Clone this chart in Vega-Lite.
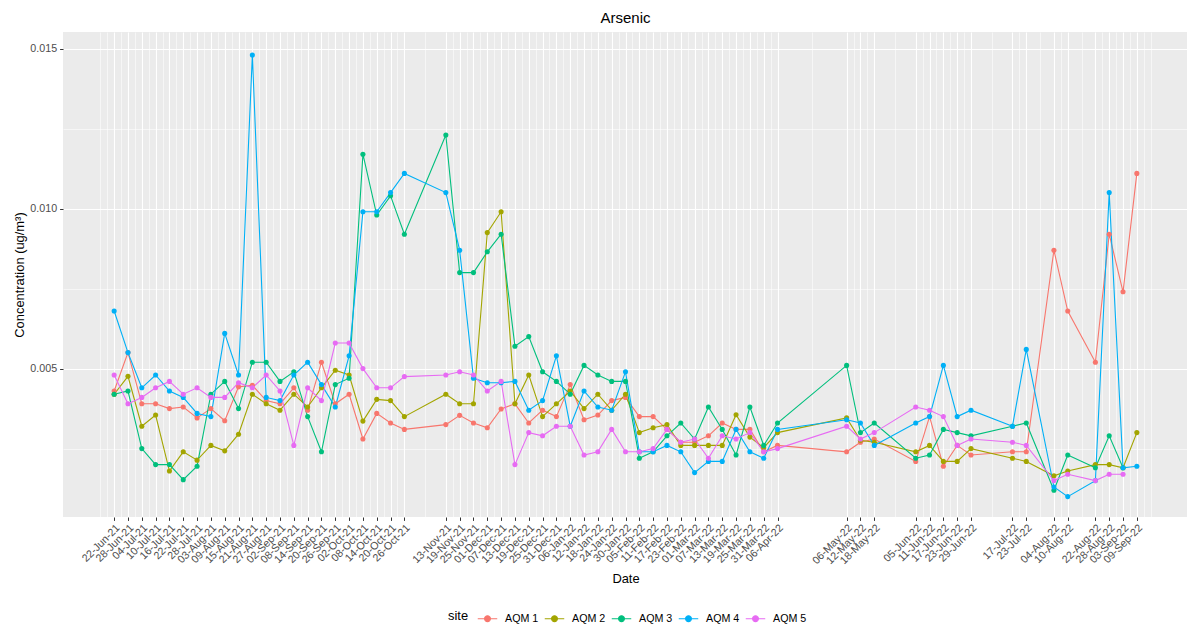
{
"$schema": "https://vega.github.io/schema/vega-lite/v6.json",
"autosize": {"type": "none"},
"padding": {"left": 63, "top": 32, "right": 0, "bottom": 111},
"width": 1125,
"height": 485,
"title": {"text": "Arsenic", "fontSize": 15, "fontWeight": "normal", "color": "black", "anchor": "middle", "offset": -6, "baseline": "alphabetic", "font": "Liberation Sans"},
"config": {"view": {"fill": "#EBEBEB", "stroke": null}, "font": "Liberation Sans"},
"data": {"values": [
{"date":"2021-06-22","site":"AQM 1","value":0.0043},
{"date":"2021-06-28","site":"AQM 1","value":0.0055},
{"date":"2021-07-04","site":"AQM 1","value":0.0039},
{"date":"2021-07-10","site":"AQM 1","value":0.0039},
{"date":"2021-07-16","site":"AQM 1","value":0.00375},
{"date":"2021-07-22","site":"AQM 1","value":0.0038},
{"date":"2021-07-28","site":"AQM 1","value":0.00346},
{"date":"2021-08-03","site":"AQM 1","value":0.00375},
{"date":"2021-08-09","site":"AQM 1","value":0.00337},
{"date":"2021-08-15","site":"AQM 1","value":0.00443},
{"date":"2021-08-21","site":"AQM 1","value":0.00448},
{"date":"2021-08-27","site":"AQM 1","value":0.0040},
{"date":"2021-09-02","site":"AQM 1","value":0.0039},
{"date":"2021-09-08","site":"AQM 1","value":0.0044},
{"date":"2021-09-14","site":"AQM 1","value":0.0037},
{"date":"2021-09-20","site":"AQM 1","value":0.0052},
{"date":"2021-09-26","site":"AQM 1","value":0.0039},
{"date":"2021-10-02","site":"AQM 1","value":0.0042},
{"date":"2021-10-08","site":"AQM 1","value":0.0028},
{"date":"2021-10-14","site":"AQM 1","value":0.0036},
{"date":"2021-10-20","site":"AQM 1","value":0.0033},
{"date":"2021-10-26","site":"AQM 1","value":0.0031},
{"date":"2021-11-13","site":"AQM 1","value":0.00325},
{"date":"2021-11-19","site":"AQM 1","value":0.00354},
{"date":"2021-11-25","site":"AQM 1","value":0.0033},
{"date":"2021-12-01","site":"AQM 1","value":0.00315},
{"date":"2021-12-07","site":"AQM 1","value":0.00374},
{"date":"2021-12-13","site":"AQM 1","value":0.0039},
{"date":"2021-12-19","site":"AQM 1","value":0.0033},
{"date":"2021-12-25","site":"AQM 1","value":0.0037},
{"date":"2021-12-31","site":"AQM 1","value":0.0035},
{"date":"2022-01-06","site":"AQM 1","value":0.0045},
{"date":"2022-01-12","site":"AQM 1","value":0.0034},
{"date":"2022-01-18","site":"AQM 1","value":0.00355},
{"date":"2022-01-24","site":"AQM 1","value":0.0040},
{"date":"2022-01-30","site":"AQM 1","value":0.0041},
{"date":"2022-02-05","site":"AQM 1","value":0.0035},
{"date":"2022-02-11","site":"AQM 1","value":0.0035},
{"date":"2022-02-17","site":"AQM 1","value":0.0031},
{"date":"2022-02-23","site":"AQM 1","value":0.0027},
{"date":"2022-03-01","site":"AQM 1","value":0.0027},
{"date":"2022-03-07","site":"AQM 1","value":0.0029},
{"date":"2022-03-13","site":"AQM 1","value":0.0033},
{"date":"2022-03-19","site":"AQM 1","value":0.0031},
{"date":"2022-03-25","site":"AQM 1","value":0.0031},
{"date":"2022-03-31","site":"AQM 1","value":0.0024},
{"date":"2022-04-06","site":"AQM 1","value":0.0026},
{"date":"2022-05-06","site":"AQM 1","value":0.0024},
{"date":"2022-05-12","site":"AQM 1","value":0.0027},
{"date":"2022-05-18","site":"AQM 1","value":0.0028},
{"date":"2022-06-05","site":"AQM 1","value":0.0021},
{"date":"2022-06-11","site":"AQM 1","value":0.0035},
{"date":"2022-06-17","site":"AQM 1","value":0.00195},
{"date":"2022-06-23","site":"AQM 1","value":0.0026},
{"date":"2022-06-29","site":"AQM 1","value":0.0023},
{"date":"2022-07-17","site":"AQM 1","value":0.0024},
{"date":"2022-07-23","site":"AQM 1","value":0.0024},
{"date":"2022-08-04","site":"AQM 1","value":0.0087},
{"date":"2022-08-10","site":"AQM 1","value":0.0068},
{"date":"2022-08-22","site":"AQM 1","value":0.0052},
{"date":"2022-08-28","site":"AQM 1","value":0.0092},
{"date":"2022-09-03","site":"AQM 1","value":0.0074},
{"date":"2022-09-09","site":"AQM 1","value":0.0111},
{"date":"2021-06-22","site":"AQM 2","value":0.0042},
{"date":"2021-06-28","site":"AQM 2","value":0.00476},
{"date":"2021-07-04","site":"AQM 2","value":0.0032},
{"date":"2021-07-10","site":"AQM 2","value":0.00355},
{"date":"2021-07-16","site":"AQM 2","value":0.0018},
{"date":"2021-07-22","site":"AQM 2","value":0.0024},
{"date":"2021-07-28","site":"AQM 2","value":0.00214},
{"date":"2021-08-03","site":"AQM 2","value":0.0026},
{"date":"2021-08-09","site":"AQM 2","value":0.00243},
{"date":"2021-08-15","site":"AQM 2","value":0.00295},
{"date":"2021-08-21","site":"AQM 2","value":0.0042},
{"date":"2021-08-27","site":"AQM 2","value":0.0039},
{"date":"2021-09-02","site":"AQM 2","value":0.0037},
{"date":"2021-09-08","site":"AQM 2","value":0.0042},
{"date":"2021-09-14","site":"AQM 2","value":0.0038},
{"date":"2021-09-20","site":"AQM 2","value":0.0044},
{"date":"2021-09-26","site":"AQM 2","value":0.00495},
{"date":"2021-10-02","site":"AQM 2","value":0.0048},
{"date":"2021-10-08","site":"AQM 2","value":0.00336},
{"date":"2021-10-14","site":"AQM 2","value":0.00404},
{"date":"2021-10-20","site":"AQM 2","value":0.0040},
{"date":"2021-10-26","site":"AQM 2","value":0.0035},
{"date":"2021-11-13","site":"AQM 2","value":0.0042},
{"date":"2021-11-19","site":"AQM 2","value":0.0039},
{"date":"2021-11-25","site":"AQM 2","value":0.0039},
{"date":"2021-12-01","site":"AQM 2","value":0.00925},
{"date":"2021-12-07","site":"AQM 2","value":0.0099},
{"date":"2021-12-13","site":"AQM 2","value":0.0039},
{"date":"2021-12-19","site":"AQM 2","value":0.0048},
{"date":"2021-12-25","site":"AQM 2","value":0.0035},
{"date":"2021-12-31","site":"AQM 2","value":0.0039},
{"date":"2022-01-06","site":"AQM 2","value":0.0043},
{"date":"2022-01-12","site":"AQM 2","value":0.00375},
{"date":"2022-01-18","site":"AQM 2","value":0.0042},
{"date":"2022-01-24","site":"AQM 2","value":0.0037},
{"date":"2022-01-30","site":"AQM 2","value":0.0042},
{"date":"2022-02-05","site":"AQM 2","value":0.0030},
{"date":"2022-02-11","site":"AQM 2","value":0.00315},
{"date":"2022-02-17","site":"AQM 2","value":0.00325},
{"date":"2022-02-23","site":"AQM 2","value":0.0026},
{"date":"2022-03-01","site":"AQM 2","value":0.0026},
{"date":"2022-03-07","site":"AQM 2","value":0.0026},
{"date":"2022-03-13","site":"AQM 2","value":0.0026},
{"date":"2022-03-19","site":"AQM 2","value":0.00356},
{"date":"2022-03-25","site":"AQM 2","value":0.00286},
{"date":"2022-03-31","site":"AQM 2","value":0.00253},
{"date":"2022-04-06","site":"AQM 2","value":0.0030},
{"date":"2022-05-06","site":"AQM 2","value":0.00346},
{"date":"2022-05-12","site":"AQM 2","value":0.00276},
{"date":"2022-05-18","site":"AQM 2","value":0.0027},
{"date":"2022-06-05","site":"AQM 2","value":0.0024},
{"date":"2022-06-11","site":"AQM 2","value":0.0026},
{"date":"2022-06-17","site":"AQM 2","value":0.0021},
{"date":"2022-06-23","site":"AQM 2","value":0.0021},
{"date":"2022-06-29","site":"AQM 2","value":0.0025},
{"date":"2022-07-17","site":"AQM 2","value":0.0022},
{"date":"2022-07-23","site":"AQM 2","value":0.0021},
{"date":"2022-08-04","site":"AQM 2","value":0.00165},
{"date":"2022-08-10","site":"AQM 2","value":0.0018},
{"date":"2022-08-22","site":"AQM 2","value":0.0020},
{"date":"2022-08-28","site":"AQM 2","value":0.0020},
{"date":"2022-09-03","site":"AQM 2","value":0.0019},
{"date":"2022-09-09","site":"AQM 2","value":0.0030},
{"date":"2021-06-22","site":"AQM 3","value":0.0042},
{"date":"2021-06-28","site":"AQM 3","value":0.0043},
{"date":"2021-07-04","site":"AQM 3","value":0.0025},
{"date":"2021-07-10","site":"AQM 3","value":0.0020},
{"date":"2021-07-16","site":"AQM 3","value":0.0020},
{"date":"2021-07-22","site":"AQM 3","value":0.00153},
{"date":"2021-07-28","site":"AQM 3","value":0.00195},
{"date":"2021-08-03","site":"AQM 3","value":0.0042},
{"date":"2021-08-09","site":"AQM 3","value":0.0046},
{"date":"2021-08-15","site":"AQM 3","value":0.00375},
{"date":"2021-08-21","site":"AQM 3","value":0.0052},
{"date":"2021-08-27","site":"AQM 3","value":0.0052},
{"date":"2021-09-02","site":"AQM 3","value":0.0046},
{"date":"2021-09-08","site":"AQM 3","value":0.0049},
{"date":"2021-09-14","site":"AQM 3","value":0.0035},
{"date":"2021-09-20","site":"AQM 3","value":0.0024},
{"date":"2021-09-26","site":"AQM 3","value":0.0045},
{"date":"2021-10-02","site":"AQM 3","value":0.0047},
{"date":"2021-10-08","site":"AQM 3","value":0.0117},
{"date":"2021-10-14","site":"AQM 3","value":0.0098},
{"date":"2021-10-20","site":"AQM 3","value":0.0104},
{"date":"2021-10-26","site":"AQM 3","value":0.0092},
{"date":"2021-11-13","site":"AQM 3","value":0.0123},
{"date":"2021-11-19","site":"AQM 3","value":0.0080},
{"date":"2021-11-25","site":"AQM 3","value":0.0080},
{"date":"2021-12-01","site":"AQM 3","value":0.00865},
{"date":"2021-12-07","site":"AQM 3","value":0.0092},
{"date":"2021-12-13","site":"AQM 3","value":0.0057},
{"date":"2021-12-19","site":"AQM 3","value":0.0060},
{"date":"2021-12-25","site":"AQM 3","value":0.0049},
{"date":"2021-12-31","site":"AQM 3","value":0.0046},
{"date":"2022-01-06","site":"AQM 3","value":0.0042},
{"date":"2022-01-12","site":"AQM 3","value":0.0051},
{"date":"2022-01-18","site":"AQM 3","value":0.0048},
{"date":"2022-01-24","site":"AQM 3","value":0.0046},
{"date":"2022-01-30","site":"AQM 3","value":0.0046},
{"date":"2022-02-05","site":"AQM 3","value":0.0022},
{"date":"2022-02-11","site":"AQM 3","value":0.0024},
{"date":"2022-02-17","site":"AQM 3","value":0.0029},
{"date":"2022-02-23","site":"AQM 3","value":0.0033},
{"date":"2022-03-01","site":"AQM 3","value":0.0028},
{"date":"2022-03-07","site":"AQM 3","value":0.0038},
{"date":"2022-03-13","site":"AQM 3","value":0.0031},
{"date":"2022-03-19","site":"AQM 3","value":0.0023},
{"date":"2022-03-25","site":"AQM 3","value":0.0038},
{"date":"2022-03-31","site":"AQM 3","value":0.0026},
{"date":"2022-04-06","site":"AQM 3","value":0.0033},
{"date":"2022-05-06","site":"AQM 3","value":0.0051},
{"date":"2022-05-12","site":"AQM 3","value":0.0030},
{"date":"2022-05-18","site":"AQM 3","value":0.0033},
{"date":"2022-06-05","site":"AQM 3","value":0.0022},
{"date":"2022-06-11","site":"AQM 3","value":0.0023},
{"date":"2022-06-17","site":"AQM 3","value":0.0031},
{"date":"2022-06-23","site":"AQM 3","value":0.0030},
{"date":"2022-06-29","site":"AQM 3","value":0.0029},
{"date":"2022-07-17","site":"AQM 3","value":0.0032},
{"date":"2022-07-23","site":"AQM 3","value":0.0033},
{"date":"2022-08-04","site":"AQM 3","value":0.0012},
{"date":"2022-08-10","site":"AQM 3","value":0.0023},
{"date":"2022-08-22","site":"AQM 3","value":0.0019},
{"date":"2022-08-28","site":"AQM 3","value":0.0029},
{"date":"2022-09-03","site":"AQM 3","value":0.0019},
{"date":"2021-06-22","site":"AQM 4","value":0.0068},
{"date":"2021-06-28","site":"AQM 4","value":0.0055},
{"date":"2021-07-04","site":"AQM 4","value":0.0044},
{"date":"2021-07-10","site":"AQM 4","value":0.0048},
{"date":"2021-07-16","site":"AQM 4","value":0.0043},
{"date":"2021-07-22","site":"AQM 4","value":0.0041},
{"date":"2021-07-28","site":"AQM 4","value":0.0036},
{"date":"2021-08-03","site":"AQM 4","value":0.0035},
{"date":"2021-08-09","site":"AQM 4","value":0.0061},
{"date":"2021-08-15","site":"AQM 4","value":0.0048},
{"date":"2021-08-21","site":"AQM 4","value":0.0148},
{"date":"2021-08-27","site":"AQM 4","value":0.0041},
{"date":"2021-09-02","site":"AQM 4","value":0.0040},
{"date":"2021-09-08","site":"AQM 4","value":0.0048},
{"date":"2021-09-14","site":"AQM 4","value":0.0052},
{"date":"2021-09-20","site":"AQM 4","value":0.0045},
{"date":"2021-09-26","site":"AQM 4","value":0.0038},
{"date":"2021-10-02","site":"AQM 4","value":0.0054},
{"date":"2021-10-08","site":"AQM 4","value":0.0099},
{"date":"2021-10-14","site":"AQM 4","value":0.0099},
{"date":"2021-10-20","site":"AQM 4","value":0.0105},
{"date":"2021-10-26","site":"AQM 4","value":0.0111},
{"date":"2021-11-13","site":"AQM 4","value":0.0105},
{"date":"2021-11-19","site":"AQM 4","value":0.0087},
{"date":"2021-11-25","site":"AQM 4","value":0.0047},
{"date":"2021-12-01","site":"AQM 4","value":0.00456},
{"date":"2021-12-07","site":"AQM 4","value":0.00456},
{"date":"2021-12-13","site":"AQM 4","value":0.0046},
{"date":"2021-12-19","site":"AQM 4","value":0.0037},
{"date":"2021-12-25","site":"AQM 4","value":0.0040},
{"date":"2021-12-31","site":"AQM 4","value":0.0054},
{"date":"2022-01-06","site":"AQM 4","value":0.0032},
{"date":"2022-01-12","site":"AQM 4","value":0.0043},
{"date":"2022-01-18","site":"AQM 4","value":0.0038},
{"date":"2022-01-24","site":"AQM 4","value":0.0037},
{"date":"2022-01-30","site":"AQM 4","value":0.0049},
{"date":"2022-02-05","site":"AQM 4","value":0.0024},
{"date":"2022-02-11","site":"AQM 4","value":0.0024},
{"date":"2022-02-17","site":"AQM 4","value":0.0026},
{"date":"2022-02-23","site":"AQM 4","value":0.0024},
{"date":"2022-03-01","site":"AQM 4","value":0.00175},
{"date":"2022-03-07","site":"AQM 4","value":0.0021},
{"date":"2022-03-13","site":"AQM 4","value":0.0021},
{"date":"2022-03-19","site":"AQM 4","value":0.0031},
{"date":"2022-03-25","site":"AQM 4","value":0.0024},
{"date":"2022-03-31","site":"AQM 4","value":0.0022},
{"date":"2022-04-06","site":"AQM 4","value":0.0031},
{"date":"2022-05-06","site":"AQM 4","value":0.0034},
{"date":"2022-05-12","site":"AQM 4","value":0.0033},
{"date":"2022-05-18","site":"AQM 4","value":0.0026},
{"date":"2022-06-05","site":"AQM 4","value":0.0033},
{"date":"2022-06-11","site":"AQM 4","value":0.0035},
{"date":"2022-06-17","site":"AQM 4","value":0.0051},
{"date":"2022-06-23","site":"AQM 4","value":0.0035},
{"date":"2022-06-29","site":"AQM 4","value":0.0037},
{"date":"2022-07-17","site":"AQM 4","value":0.0032},
{"date":"2022-07-23","site":"AQM 4","value":0.0056},
{"date":"2022-08-04","site":"AQM 4","value":0.0013},
{"date":"2022-08-10","site":"AQM 4","value":0.0010},
{"date":"2022-08-22","site":"AQM 4","value":0.0015},
{"date":"2022-08-28","site":"AQM 4","value":0.0105},
{"date":"2022-09-03","site":"AQM 4","value":0.0019},
{"date":"2022-09-09","site":"AQM 4","value":0.00195},
{"date":"2021-06-22","site":"AQM 5","value":0.0048},
{"date":"2021-06-28","site":"AQM 5","value":0.0039},
{"date":"2021-07-04","site":"AQM 5","value":0.0041},
{"date":"2021-07-10","site":"AQM 5","value":0.0044},
{"date":"2021-07-16","site":"AQM 5","value":0.0046},
{"date":"2021-07-22","site":"AQM 5","value":0.0042},
{"date":"2021-07-28","site":"AQM 5","value":0.0044},
{"date":"2021-08-03","site":"AQM 5","value":0.0041},
{"date":"2021-08-09","site":"AQM 5","value":0.0041},
{"date":"2021-08-15","site":"AQM 5","value":0.00456},
{"date":"2021-08-21","site":"AQM 5","value":0.0044},
{"date":"2021-08-27","site":"AQM 5","value":0.0048},
{"date":"2021-09-02","site":"AQM 5","value":0.0043},
{"date":"2021-09-08","site":"AQM 5","value":0.0026},
{"date":"2021-09-14","site":"AQM 5","value":0.0044},
{"date":"2021-09-20","site":"AQM 5","value":0.0040},
{"date":"2021-09-26","site":"AQM 5","value":0.0058},
{"date":"2021-10-02","site":"AQM 5","value":0.0058},
{"date":"2021-10-08","site":"AQM 5","value":0.0050},
{"date":"2021-10-14","site":"AQM 5","value":0.0044},
{"date":"2021-10-20","site":"AQM 5","value":0.0044},
{"date":"2021-10-26","site":"AQM 5","value":0.00475},
{"date":"2021-11-13","site":"AQM 5","value":0.0048},
{"date":"2021-11-19","site":"AQM 5","value":0.0049},
{"date":"2021-11-25","site":"AQM 5","value":0.0048},
{"date":"2021-12-01","site":"AQM 5","value":0.0043},
{"date":"2021-12-07","site":"AQM 5","value":0.0046},
{"date":"2021-12-13","site":"AQM 5","value":0.0020},
{"date":"2021-12-19","site":"AQM 5","value":0.0030},
{"date":"2021-12-25","site":"AQM 5","value":0.0029},
{"date":"2021-12-31","site":"AQM 5","value":0.0032},
{"date":"2022-01-06","site":"AQM 5","value":0.0032},
{"date":"2022-01-12","site":"AQM 5","value":0.0023},
{"date":"2022-01-18","site":"AQM 5","value":0.0024},
{"date":"2022-01-24","site":"AQM 5","value":0.0031},
{"date":"2022-01-30","site":"AQM 5","value":0.0024},
{"date":"2022-02-05","site":"AQM 5","value":0.0024},
{"date":"2022-02-11","site":"AQM 5","value":0.0025},
{"date":"2022-02-17","site":"AQM 5","value":0.0031},
{"date":"2022-02-23","site":"AQM 5","value":0.0027},
{"date":"2022-03-01","site":"AQM 5","value":0.0028},
{"date":"2022-03-07","site":"AQM 5","value":0.0022},
{"date":"2022-03-13","site":"AQM 5","value":0.0029},
{"date":"2022-03-19","site":"AQM 5","value":0.0028},
{"date":"2022-03-25","site":"AQM 5","value":0.0030},
{"date":"2022-03-31","site":"AQM 5","value":0.0024},
{"date":"2022-04-06","site":"AQM 5","value":0.0025},
{"date":"2022-05-06","site":"AQM 5","value":0.0032},
{"date":"2022-05-12","site":"AQM 5","value":0.0028},
{"date":"2022-05-18","site":"AQM 5","value":0.0030},
{"date":"2022-06-05","site":"AQM 5","value":0.0038},
{"date":"2022-06-11","site":"AQM 5","value":0.0037},
{"date":"2022-06-17","site":"AQM 5","value":0.0035},
{"date":"2022-06-23","site":"AQM 5","value":0.0026},
{"date":"2022-06-29","site":"AQM 5","value":0.0028},
{"date":"2022-07-17","site":"AQM 5","value":0.0027},
{"date":"2022-07-23","site":"AQM 5","value":0.0026},
{"date":"2022-08-04","site":"AQM 5","value":0.0015},
{"date":"2022-08-10","site":"AQM 5","value":0.0017},
{"date":"2022-08-22","site":"AQM 5","value":0.0015},
{"date":"2022-08-28","site":"AQM 5","value":0.0017},
{"date":"2022-09-03","site":"AQM 5","value":0.0017}
]},
"layer": [
{
"mark": {"type": "line", "strokeWidth": 1.1},
"encoding": {
"x": {"field": "date", "type": "temporal",
 "scale": {"type": "utc", "domain": [{"year":2021,"month":5,"date":30,"hours":19,"utc":true},{"year":2022,"month":10,"date":1,"hours":5,"utc":true}]},
 "axis": {"orient": "bottom", "values": [
{"year":2021,"month":6,"date":22,"utc":true},{"year":2021,"month":6,"date":28,"utc":true},{"year":2021,"month":7,"date":4,"utc":true},{"year":2021,"month":7,"date":10,"utc":true},{"year":2021,"month":7,"date":16,"utc":true},{"year":2021,"month":7,"date":22,"utc":true},{"year":2021,"month":7,"date":28,"utc":true},{"year":2021,"month":8,"date":3,"utc":true},{"year":2021,"month":8,"date":9,"utc":true},{"year":2021,"month":8,"date":15,"utc":true},{"year":2021,"month":8,"date":21,"utc":true},{"year":2021,"month":8,"date":27,"utc":true},{"year":2021,"month":9,"date":2,"utc":true},{"year":2021,"month":9,"date":8,"utc":true},{"year":2021,"month":9,"date":14,"utc":true},{"year":2021,"month":9,"date":20,"utc":true},{"year":2021,"month":9,"date":26,"utc":true},{"year":2021,"month":10,"date":2,"utc":true},{"year":2021,"month":10,"date":8,"utc":true},{"year":2021,"month":10,"date":14,"utc":true},{"year":2021,"month":10,"date":20,"utc":true},{"year":2021,"month":10,"date":26,"utc":true},{"year":2021,"month":11,"date":13,"utc":true},{"year":2021,"month":11,"date":19,"utc":true},{"year":2021,"month":11,"date":25,"utc":true},{"year":2021,"month":12,"date":1,"utc":true},{"year":2021,"month":12,"date":7,"utc":true},{"year":2021,"month":12,"date":13,"utc":true},{"year":2021,"month":12,"date":19,"utc":true},{"year":2021,"month":12,"date":25,"utc":true},{"year":2021,"month":12,"date":31,"utc":true},
{"year":2022,"month":1,"date":6,"utc":true},{"year":2022,"month":1,"date":12,"utc":true},{"year":2022,"month":1,"date":18,"utc":true},{"year":2022,"month":1,"date":24,"utc":true},{"year":2022,"month":1,"date":30,"utc":true},{"year":2022,"month":2,"date":5,"utc":true},{"year":2022,"month":2,"date":11,"utc":true},{"year":2022,"month":2,"date":17,"utc":true},{"year":2022,"month":2,"date":23,"utc":true},{"year":2022,"month":3,"date":1,"utc":true},{"year":2022,"month":3,"date":7,"utc":true},{"year":2022,"month":3,"date":13,"utc":true},{"year":2022,"month":3,"date":19,"utc":true},{"year":2022,"month":3,"date":25,"utc":true},{"year":2022,"month":3,"date":31,"utc":true},{"year":2022,"month":4,"date":6,"utc":true},{"year":2022,"month":5,"date":6,"utc":true},{"year":2022,"month":5,"date":12,"utc":true},{"year":2022,"month":5,"date":18,"utc":true},{"year":2022,"month":6,"date":5,"utc":true},{"year":2022,"month":6,"date":11,"utc":true},{"year":2022,"month":6,"date":17,"utc":true},{"year":2022,"month":6,"date":23,"utc":true},{"year":2022,"month":6,"date":29,"utc":true},{"year":2022,"month":7,"date":17,"utc":true},{"year":2022,"month":7,"date":23,"utc":true},{"year":2022,"month":8,"date":4,"utc":true},{"year":2022,"month":8,"date":10,"utc":true},{"year":2022,"month":8,"date":22,"utc":true},{"year":2022,"month":8,"date":28,"utc":true},{"year":2022,"month":9,"date":3,"utc":true},{"year":2022,"month":9,"date":9,"utc":true}
 ],
 "format": "%d-%b-%y", "labelAngle": -45, "labelAlign": "right", "labelBaseline": "top", "labelFontSize": 10.7, "labelColor": "#4D4D4D", "labelOverlap": false, "labelFlush": false, "labelBound": false, "labelPadding": 2,
 "tickSize": 3.4, "tickColor": "#333333", "tickWidth": 1, "domain": false, "grid": true, "gridColor": "#FFFFFF", "gridWidth": 1.1,
 "title": "Date", "titleFontSize": 12.9, "titleFontWeight": "normal", "titleColor": "black", "titlePadding": 7}},
"y": {"field": "value", "type": "quantitative",
 "scale": {"domain": [0.000363, 0.015519], "nice": false, "zero": false},
 "axis": {"orient": "left", "values": [0.005, 0.01, 0.015], "format": ".3f", "labelFontSize": 10.7, "labelColor": "#4D4D4D", "labelPadding": 3,
 "tickSize": 3.4, "tickColor": "#333333", "tickWidth": 1, "domain": false, "grid": true, "gridColor": "#FFFFFF", "gridWidth": 1.1,
 "title": "Concentration (ug/m³)", "titleFontSize": 12.9, "titleFontWeight": "normal", "titleColor": "black", "titlePadding": 3}},
"color": {"field": "site", "type": "nominal",
 "scale": {"domain": ["AQM 1","AQM 2","AQM 3","AQM 4","AQM 5"], "range": ["#F8766D","#A3A500","#00BF7D","#00B0F6","#E76BF3"]},
 "legend": {"title": "site", "orient": "none", "legendX": 385, "legendY": 576, "direction": "horizontal", "titleOrient": "left", "titleFontSize": 12.9, "titleFontWeight": "normal", "titleColor": "black", "titlePadding": 8, "labelFontSize": 10.7, "labelColor": "black", "labelOffset": 7, "columnPadding": 3, "symbolType": "M-1,0H1M0.3,0A0.3,0.3,0,1,1,-0.3,0A0.3,0.3,0,1,1,0.3,0Z", "symbolSize": 380, "symbolStrokeWidth": 1.1,
 "encode": {"symbols": {"update": {"fill": {"scale": "color", "field": "value"}, "stroke": {"scale": "color", "field": "value"}}}}}}
}
},
{
"mark": {"type": "point", "filled": true, "size": 26, "opacity": 1},
"encoding": {
"x": {"field": "date", "type": "temporal",
 "scale": {"type": "utc", "domain": [{"year":2021,"month":5,"date":30,"hours":19,"utc":true},{"year":2022,"month":10,"date":1,"hours":5,"utc":true}]},
 "axis": {"orient": "bottom", "values": [
{"year":2021,"month":6,"date":16,"utc":true},{"year":2021,"month":6,"date":19,"utc":true},{"year":2021,"month":6,"date":25,"utc":true},{"year":2021,"month":7,"date":1,"utc":true},{"year":2021,"month":7,"date":7,"utc":true},{"year":2021,"month":7,"date":13,"utc":true},{"year":2021,"month":7,"date":19,"utc":true},{"year":2021,"month":7,"date":25,"utc":true},{"year":2021,"month":7,"date":31,"utc":true},{"year":2021,"month":8,"date":6,"utc":true},{"year":2021,"month":8,"date":12,"utc":true},{"year":2021,"month":8,"date":18,"utc":true},{"year":2021,"month":8,"date":24,"utc":true},{"year":2021,"month":8,"date":30,"utc":true},{"year":2021,"month":9,"date":5,"utc":true},{"year":2021,"month":9,"date":11,"utc":true},{"year":2021,"month":9,"date":17,"utc":true},{"year":2021,"month":9,"date":23,"utc":true},{"year":2021,"month":9,"date":29,"utc":true},{"year":2021,"month":10,"date":5,"utc":true},{"year":2021,"month":10,"date":11,"utc":true},{"year":2021,"month":10,"date":17,"utc":true},{"year":2021,"month":10,"date":23,"utc":true},{"year":2021,"month":11,"date":4,"utc":true},{"year":2021,"month":11,"date":16,"utc":true},{"year":2021,"month":11,"date":22,"utc":true},{"year":2021,"month":11,"date":28,"utc":true},{"year":2021,"month":12,"date":4,"utc":true},{"year":2021,"month":12,"date":10,"utc":true},{"year":2021,"month":12,"date":16,"utc":true},{"year":2021,"month":12,"date":22,"utc":true},{"year":2021,"month":12,"date":28,"utc":true},
{"year":2022,"month":1,"date":3,"utc":true},{"year":2022,"month":1,"date":9,"utc":true},{"year":2022,"month":1,"date":15,"utc":true},{"year":2022,"month":1,"date":21,"utc":true},{"year":2022,"month":1,"date":27,"utc":true},{"year":2022,"month":2,"date":2,"utc":true},{"year":2022,"month":2,"date":8,"utc":true},{"year":2022,"month":2,"date":14,"utc":true},{"year":2022,"month":2,"date":20,"utc":true},{"year":2022,"month":2,"date":26,"utc":true},{"year":2022,"month":3,"date":4,"utc":true},{"year":2022,"month":3,"date":10,"utc":true},{"year":2022,"month":3,"date":16,"utc":true},{"year":2022,"month":3,"date":22,"utc":true},{"year":2022,"month":3,"date":28,"utc":true},{"year":2022,"month":4,"date":3,"utc":true},{"year":2022,"month":4,"date":21,"utc":true},{"year":2022,"month":5,"date":9,"utc":true},{"year":2022,"month":5,"date":15,"utc":true},{"year":2022,"month":5,"date":27,"utc":true},{"year":2022,"month":6,"date":8,"utc":true},{"year":2022,"month":6,"date":14,"utc":true},{"year":2022,"month":6,"date":20,"utc":true},{"year":2022,"month":6,"date":26,"utc":true},{"year":2022,"month":7,"date":8,"utc":true},{"year":2022,"month":7,"date":20,"utc":true},{"year":2022,"month":7,"date":29,"utc":true},{"year":2022,"month":8,"date":7,"utc":true},{"year":2022,"month":8,"date":16,"utc":true},{"year":2022,"month":8,"date":25,"utc":true},{"year":2022,"month":8,"date":31,"utc":true},{"year":2022,"month":9,"date":6,"utc":true},{"year":2022,"month":9,"date":12,"utc":true},{"year":2022,"month":9,"date":15,"utc":true}
 ],
 "labels": false, "ticks": false, "domain": false, "grid": true, "gridColor": "#FFFFFF", "gridWidth": 0.55, "title": null}},
"y": {"field": "value", "type": "quantitative",
 "scale": {"domain": [0.000363, 0.015519], "nice": false, "zero": false},
 "axis": {"orient": "left", "values": [0.0025, 0.0075, 0.0125], "labels": false, "ticks": false, "domain": false, "grid": true, "gridColor": "#FFFFFF", "gridWidth": 0.55, "title": null}},
"color": {"field": "site", "type": "nominal",
 "scale": {"domain": ["AQM 1","AQM 2","AQM 3","AQM 4","AQM 5"], "range": ["#F8766D","#A3A500","#00BF7D","#00B0F6","#E76BF3"]}}
}
}
],
"resolve": {"axis": {"x": "independent", "y": "independent"}}
}
